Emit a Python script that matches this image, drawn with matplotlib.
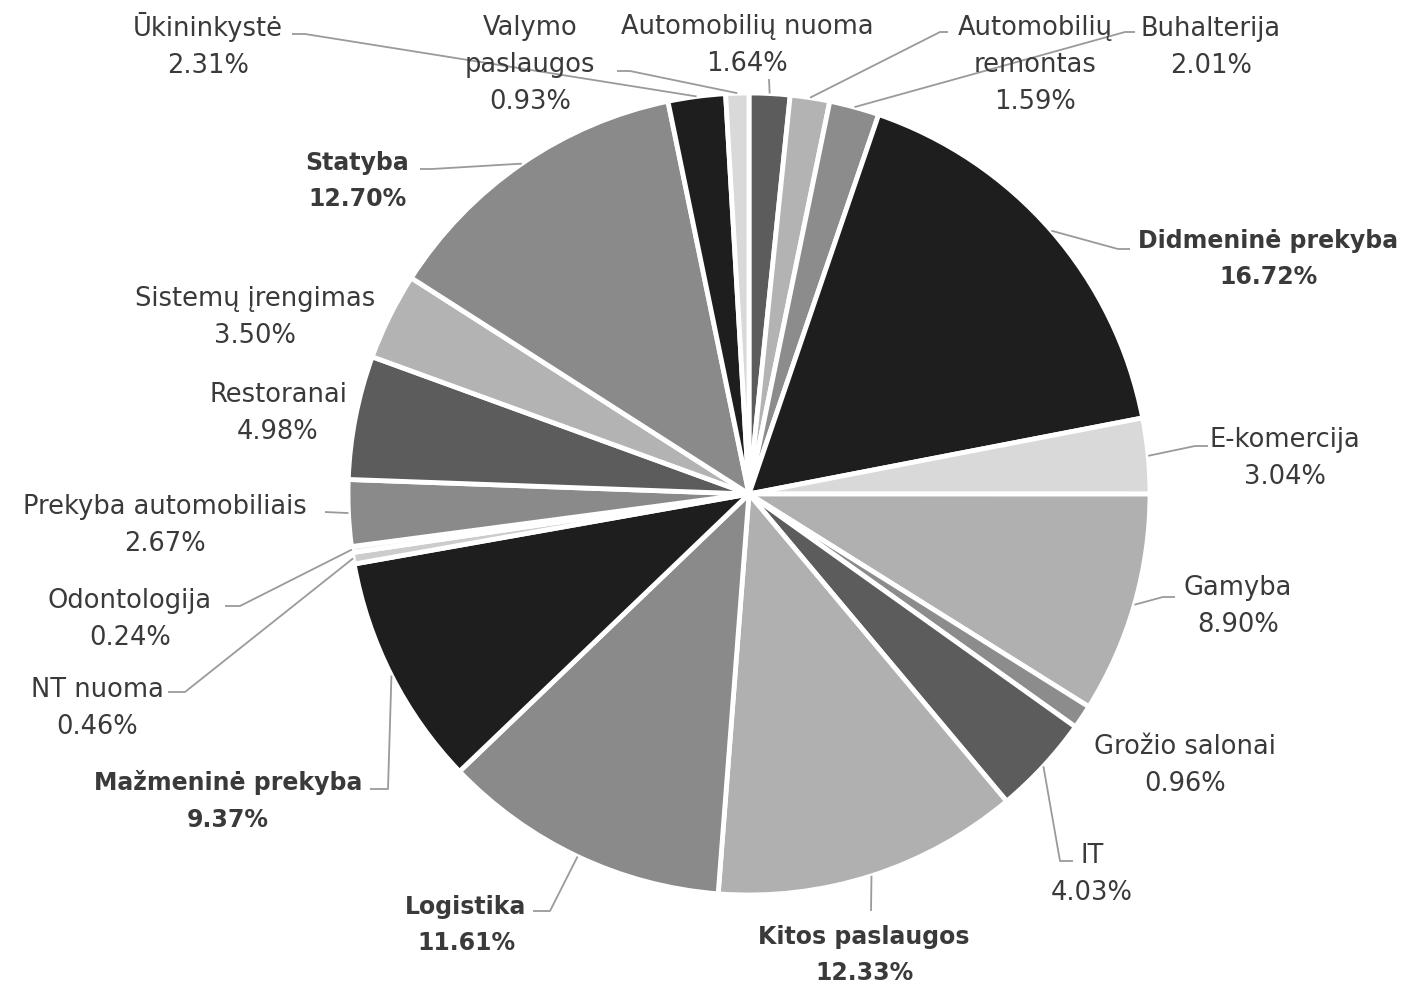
import matplotlib
matplotlib.use("Agg")
import matplotlib.pyplot as plt
import numpy as np

categories = ["Automobilių nuoma", "Automobilių\nremontas", "Buhalterija", "Didmeninė prekyba",
              "E-komercija", "Gamyba", "Grožio salonai", "IT", "Kitos paslaugos", "Logistika",
              "Mažmeninė prekyba", "NT nuoma", "Odontologija", "Prekyba automobiliais",
              "Restoranai", "Sistemų įrengimas", "Statyba", "Ūkininkystė", "Valymo\npaslaugos"]
values = [1.64, 1.59, 2.01, 16.72, 3.04, 8.90, 0.96, 4.03, 12.33, 11.61,
          9.37, 0.46, 0.24, 2.67, 4.98, 3.50, 12.70, 2.31, 0.93]
bold_labels = ["Didmeninė prekyba", "Kitos paslaugos", "Logistika", "Mažmeninė prekyba", "Statyba"]

colors = ["#5c5c5c", "#b3b3b3", "#8c8c8c", "#1e1e1e", "#d9d9d9", "#b0b0b0", "#8c8c8c",
          "#5c5c5c", "#b0b0b0", "#8a8a8a", "#1e1e1e", "#cccccc", "#eeeeee", "#8a8a8a",
          "#5c5c5c", "#b3b3b3", "#8a8a8a", "#1e1e1e", "#d9d9d9"]

W, H = 1409, 987
CX, CY, R = 749, 495, 401

def P(x, y):
    return (x, H - y)

# label layout (pixel coords, y from top): text centre and leader path (elbow points)
label_pos = [(747, 46), (1035, 65), (1211, 48), (1268, 259), (1285, 459), (1238, 607),
             (1185, 766), (1092, 875), (864, 955), (466, 925), (228, 801), (97, 709),
             (130, 620), (165, 526), (278, 414), (255, 318), (357, 181), (208, 46), (530, 65)]
leader_paths = [[(769, 80)], [(940, 33), (948, 33)], [(1125, 33), (1135, 33)],
                [(1118, 250), (1130, 250)], [(1195, 447), (1208, 447)],
                [(1163, 598), (1175, 598)], None, [(1060, 862), (1073, 862)],
                [(871, 912)], [(550, 912), (533, 912)], [(388, 790), (370, 790)],
                [(185, 693), (168, 693)], [(240, 607), (225, 607)], [(325, 513)],
                None, None, [(432, 170), (420, 170)], [(305, 35), (292, 35)],
                [(630, 72), (617, 72)]]

plt.rcParams['font.family'] = ['DejaVu Sans']
fig = plt.figure(figsize=(W / 100, H / 100), dpi=100)
ax = fig.add_axes([0, 0, 1, 1])
wedges, _ = ax.pie(values, colors=colors, startangle=90, counterclock=False,
                   center=P(CX, CY), radius=R, frame=True,
                   wedgeprops=dict(edgecolor="white", linewidth=3.5))
ax.set_xlim(0, W)
ax.set_ylim(0, H)
ax.set_aspect('equal')
ax.axis('off')

txt_color = "#3a3a3a"
for w, cat, val, pos, path in zip(wedges, categories, values, label_pos, leader_paths):
    mid = np.deg2rad((w.theta1 + w.theta2) / 2)
    ax_pt = (w.center[0] + R * np.cos(mid), w.center[1] + R * np.sin(mid))
    if path is not None:
        xs = [ax_pt[0]] + [p[0] for p in path]
        ys = [ax_pt[1]] + [H - p[1] for p in path]
        ax.plot(xs, ys, color="#9a9a9a", lw=1.3, solid_capstyle='butt')
    bold = cat in bold_labels
    ax.text(*P(*pos), f"{cat}\n{val:.2f}%", ha='center', va='center',
            multialignment='center', fontsize=17 if bold else 18.5, color=txt_color,
            fontweight='bold' if bold else 'normal',
            linespacing=1.68 if bold else 1.55)

fig.savefig("out.png", dpi=100, facecolor="white")
